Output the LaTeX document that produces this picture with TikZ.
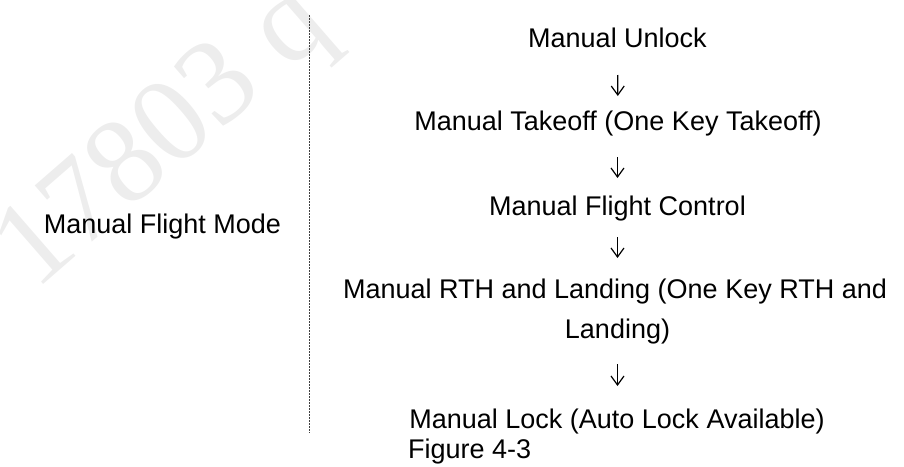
\documentclass[tikz,border=0pt]{standalone}
\usepackage{fontspec}
\setmainfont{Liberation Sans}
\newfontfamily\wmfont{Liberation Serif}
\usetikzlibrary{arrows.meta}
\begin{document}
\begin{tikzpicture}[x=1pt,y=-1pt,
  txt/.style={inner sep=0pt,anchor=base,font=\fontsize{27}{40}\selectfont},
  flow/.style={line width=1.2pt,-{Straight Barb[length=9pt,width=13pt,line width=1.2pt]}},
  divider/.style={line width=0.8pt,black!75,dash pattern=on 2pt off 1pt},
  wm/.style={inner sep=0pt,text=black!7,font=\wmfont\fontsize{122}{122}\selectfont,rotate=41}]
\useasboundingbox (0,0) rectangle (904,466);
\clip (0,0) rectangle (904,466);
% watermark
\node[wm,anchor=base west] (wmark) at (35,292) {17803 q};
% left label
\node[txt] (mode) at (162.5,233) {Manual Flight Mode};
% divider
\coordinate (dtop) at (309,15);
\coordinate (dbot) at (309,433);
\draw[divider] (dtop) -- (dbot);
% steps
\node[txt] (unlock)  at (617.5,47)  {Manual Unlock};
\node[txt] (takeoff) at (618,130) {Manual Takeoff (One Key Takeoff)};
\node[txt] (control) at (617.5,215) {Manual Flight Control};
\node[txt] (rth)     at (615,298) {Manual RTH and Landing (One Key RTH and};
\node[txt] (rthb)    at (617.5,338) {Landing)};
\node[txt] (lock)    at (617,428) {Manual Lock (Auto Lock Available)};
\node[txt,anchor=base west] (fig) at (408,458) {Figure 4-3};
% arrows
\draw[flow,shorten <=28pt,shorten >=34pt] (unlock.base) -- (takeoff.base);
\draw[flow,shorten <=27pt,shorten >=37pt] ([xshift=-0.5pt]takeoff.base) -- (control.base);
\draw[flow,shorten <=22pt,shorten >=40pt] (control.base) -- ([xshift=2.5pt]rth.base);
\draw[flow,shorten <=26pt,shorten >=42pt] (rthb.base) -- ([xshift=0.5pt]lock.base);
\end{tikzpicture}
\end{document}
